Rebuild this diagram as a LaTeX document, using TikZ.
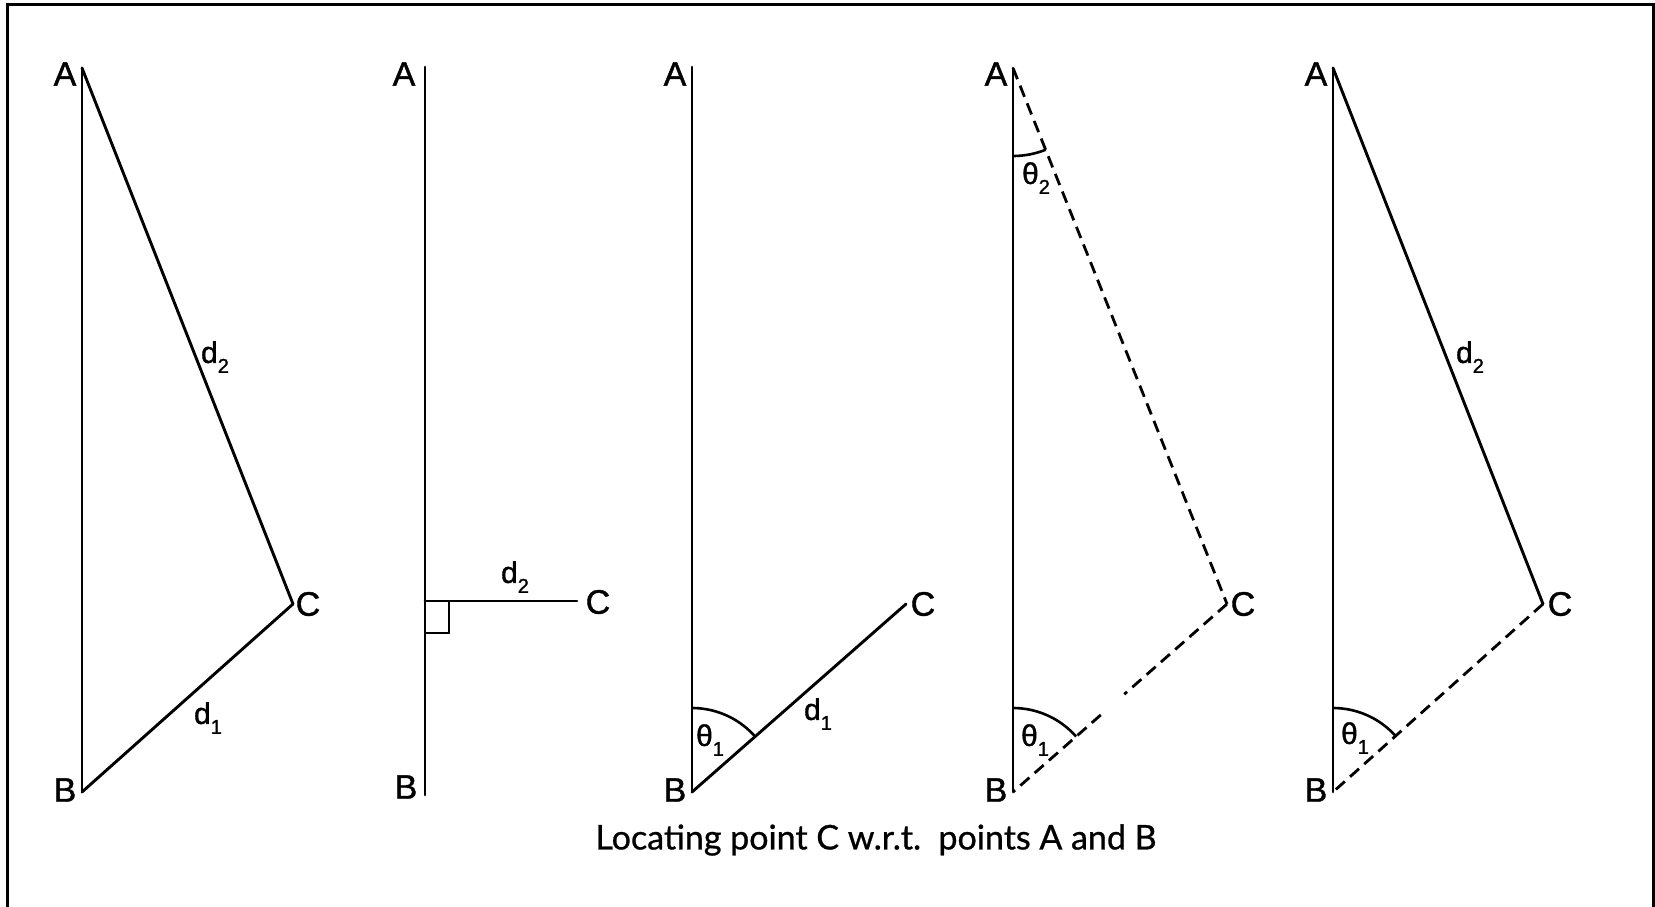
\documentclass[tikz,border=0pt]{standalone}
\usepackage{fontspec}
\setmainfont{Liberation Sans}
\newfontfamily\lblfont[FakeBold=1.2]{Liberation Sans}
\newfontfamily\capfont[FakeBold=0.8]{Lato}
\usetikzlibrary{calc}
\newcommand\subl[2]{#1\raisebox{-0.33em}{\fontsize{20}{20}\selectfont #2}}
\begin{document}
\begin{tikzpicture}[x=1pt,y=-1pt,
  seg/.style={line width=2.9pt, line cap=round},
  dsh/.style={line width=2.8pt, dash pattern=on 12pt off 7pt},
  lbl/.style={font=\lblfont\fontsize{34}{34}\selectfont, inner sep=0pt},
  dl/.style={font=\lblfont\fontsize{30}{30}\selectfont, inner sep=0pt},
  angarc/.style={line width=2.6pt},
  frame/.style={line width=3pt}]
\useasboundingbox (0,0) rectangle (1655,906);
\draw[frame] (7,930) -- (7,4) -- (1653,4) -- (1653,930);

% Panel 1
\coordinate (A1) at (82,68);
\coordinate (B1) at (82,792);
\coordinate (C1) at (293,604);
\draw[seg] (A1) -- (B1);
\draw[seg] (B1) -- (C1);
\draw[seg] (C1) -- (A1);
\node[lbl] (lA1) at (65,74) {A};
\node[lbl] (lB1) at (65,790) {B};
\node[lbl] (lC1) at (308,604) {C};
\node[dl] (d21) at (215,357) {\subl{d}{2}};
\node[dl] (d11) at (208,718) {\subl{d}{1}};

% Panel 2
\coordinate (A2) at (425,67);
\coordinate (B2) at (425,795);
\coordinate (F2) at (425,601);
\coordinate (C2) at (577,601);
\draw[seg] (A2) -- (B2);
\draw[seg] (F2) -- (C2);
\draw[line width=2.4pt] ($(F2)+(24,0)$) -- ($(F2)+(24,32)$) -- ($(F2)+(0,32)$);
\node[lbl] (lA2) at (404,74) {A};
\node[lbl] (lB2) at (406,787) {B};
\node[lbl] (lC2) at (598,602) {C};
\node[dl] (d22) at (515,577) {\subl{d}{2}};

% Panel 3
\coordinate (A3) at (692,67);
\coordinate (B3) at (692,792);
\coordinate (C3) at (906,604);
\draw[seg] (A3) -- (B3);
\draw[seg] (B3) -- (C3);
\draw[angarc, shift={(B3)}] plot[domain=-90:-41.3, samples=30, smooth] ({84*cos(\x)}, {84*sin(\x)});
\node[lbl] (lA3) at (675,74) {A};
\node[lbl] (lB3) at (675,790) {B};
\node[lbl] (lC3) at (923,604) {C};
\node[dl] (t13) at (710,740) {\subl{θ}{1}};
\node[dl] (d13) at (818,714) {\subl{d}{1}};

% Panel 4
\coordinate (A4) at (1013,68);
\coordinate (B4) at (1013,792);
\coordinate (C4) at (1227,604);
\draw[seg] (A4) -- (B4);
\draw[dsh] (A4) -- (C4);
\draw[dsh] (C4) -- ($(B4)!0.52!(C4)$);
\draw[dsh] ($(B4)!0.41!(C4)$) -- (B4);
\draw[angarc, shift={(B4)}] plot[domain=-90:-41.3, samples=30, smooth] ({84*cos(\x)}, {84*sin(\x)});
\draw[angarc, shift={(A4)}] plot[domain=90:68.2, samples=20, smooth] ({88*cos(\x)}, {88*sin(\x)});
\node[lbl] (lA4) at (996,74) {A};
\node[lbl] (lB4) at (996,790) {B};
\node[lbl] (lC4) at (1243,604) {C};
\node[dl] (t24) at (1036,178) {\subl{θ}{2}};
\node[dl] (t14) at (1035,740) {\subl{θ}{1}};

% Panel 5
\coordinate (A5) at (1333,68);
\coordinate (B5) at (1333,792);
\coordinate (C5) at (1543,604);
\draw[seg] (A5) -- (B5);
\draw[seg] (A5) -- (C5);
\draw[dsh] (C5) -- (B5);
\draw[angarc, shift={(B5)}] plot[domain=-90:-41.8, samples=30, smooth] ({84*cos(\x)}, {84*sin(\x)});
\node[lbl] (lA5) at (1316,74) {A};
\node[lbl] (lB5) at (1316,790) {B};
\node[lbl] (lC5) at (1560,604) {C};
\node[dl] (d25) at (1470,357) {\subl{d}{2}};
\node[dl] (t15) at (1355,738) {\subl{θ}{1}};

% Caption
\node[font=\capfont\fontsize{34}{34}\selectfont, inner sep=0pt] (cap) at (876,840) {Locating point C w.r.t.\ \ points A and B};
\end{tikzpicture}
\end{document}
